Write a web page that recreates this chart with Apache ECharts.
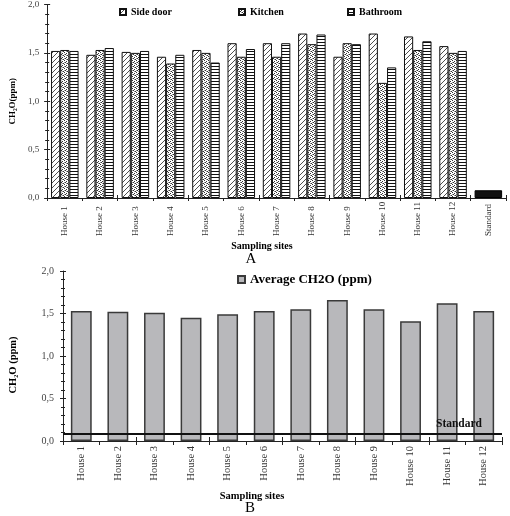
<!DOCTYPE html>
<html><head><meta charset="utf-8">
<script src="https://cdn.jsdelivr.net/npm/echarts@6/dist/echarts.min.js"></script>
<style>html,body{margin:0;padding:0;background:#fff}#c{width:510px;height:516px}</style>
</head><body><div id="c"></div>
<script>
// ---- data ----
const categoriesA = ['House 1','House 2','House 3','House 4','House 5','House 6','House 7','House 8','House 9','House 10','House 11','House 12','Standard'];
const sideDoor = [1.52,1.48,1.51,1.46,1.53,1.60,1.60,1.70,1.46,1.70,1.67,1.57,null];
const kitchen  = [1.53,1.53,1.50,1.39,1.50,1.46,1.46,1.59,1.60,1.19,1.53,1.50,null];
const bathroom = [1.52,1.55,1.52,1.48,1.40,1.54,1.60,1.69,1.59,1.35,1.62,1.52,null];
const standardA = [null,null,null,null,null,null,null,null,null,null,null,null,0.08];
const categoriesB = ['House 1','House 2','House 3','House 4','House 5','House 6','House 7','House 8','House 9','House 10','House 11','House 12'];
const averageB = [1.53,1.52,1.51,1.45,1.49,1.53,1.55,1.66,1.55,1.41,1.62,1.53];
const standardLine = 0.09;
const yMin = 0, yMax = 2, yStep = 0.5;
const seriesNamesA = ['Side door','Kitchen','Bathroom'];
const seriesNameB = 'Average CH2O (ppm)';

// ---- patterns ----
function pattern(kind){
  const c = document.createElement('canvas');
  const ctx = c.getContext('2d');
  if(kind==='diag'){
    c.width=5;c.height=5;
    ctx.fillStyle='#fff';ctx.fillRect(0,0,5,5);
    ctx.strokeStyle='#222';ctx.lineWidth=0.8;
    ctx.beginPath();
    ctx.moveTo(-1,6);ctx.lineTo(6,-1);
    ctx.moveTo(-1,1);ctx.lineTo(1,-1);
    ctx.moveTo(4,6);ctx.lineTo(6,4);
    ctx.stroke();
  } else if(kind==='dots'){
    c.width=4;c.height=4;
    ctx.fillStyle='#fff';ctx.fillRect(0,0,4,4);
    ctx.fillStyle='#333';
    ctx.fillRect(0,0,1,1);ctx.fillRect(2,1,1,1);ctx.fillRect(1,2,1,1);ctx.fillRect(3,3,1,1);
    ctx.fillStyle='#999';
    ctx.fillRect(2,3,1,1);ctx.fillRect(0,2,1,1);
  } else {
    c.width=3;c.height=3;
    ctx.fillStyle='#fff';ctx.fillRect(0,0,3,3);
    ctx.fillStyle='#111';ctx.fillRect(0,0,3,1);
  }
  return {image:c, repeat:'repeat'};
}
const patterns = [pattern('diag'), pattern('dots'), pattern('hline')];

const FF = 'Liberation Serif';
const fmt = v => v.toFixed(1).replace('.', ',');

function yAxes(grid, fontSize, margin, name, nameGap, nameSize, namePad){
  return [{
    gridIndex:grid, type:'value', min:yMin, max:yMax, interval:yStep,
    name:name, nameLocation:'middle', nameGap:nameGap, nameRotate:90,
    nameTextStyle:{fontFamily:FF, fontWeight:'bold', fontSize:nameSize, color:'#000', padding:namePad},
    axisLine:{show:true, lineStyle:{color:'#222', width:1}},
    axisTick:{show:true, length:3, lineStyle:{color:'#222'}},
    minorTick:{show:true, splitNumber:5, length:2, lineStyle:{color:'#222'}},
    splitLine:{show:false},
    axisLabel:{fontFamily:FF, fontSize:fontSize, color:'#444', margin:margin, formatter:fmt}
  },{
    gridIndex:grid, type:'value', position:'left', min:yMin, max:yMax, interval:yStep,
    axisLine:{show:false}, axisLabel:{show:false}, splitLine:{show:false},
    axisTick:{show:true, inside:true, length:3, lineStyle:{color:'#222'}},
    minorTick:{show:true, splitNumber:5, length:2, lineStyle:{color:'#222'}}
  }];
}

const ya = yAxes(0, 9, 8, 'CH₂O(ppm)', 30, 9, [0,0,0,0]);
const yb = yAxes(1, 10, 9, 'CH₂O (ppm)', 44, 10.5, [0,18,0,0]);

const option = {
  animation:false,
  backgroundColor:'#fff',
  grid:[
    {left:40, right:4, top:4, bottom:318},
    {left:57, right:8, top:271, bottom:75}
  ],
  legend:[
    {data:[seriesNamesA[0]], left:119, top:7, padding:0, itemWidth:6, itemHeight:6, icon:'rect', selectedMode:false,
     textStyle:{fontFamily:FF, fontWeight:'bold', fontSize:10, color:'#000'}},
    {data:[seriesNamesA[1]], left:238, top:7, padding:0, itemWidth:6, itemHeight:6, icon:'rect', selectedMode:false,
     textStyle:{fontFamily:FF, fontWeight:'bold', fontSize:10, color:'#000'}},
    {data:[seriesNamesA[2]], left:347, top:7, padding:0, itemWidth:6, itemHeight:6, icon:'rect', selectedMode:false,
     textStyle:{fontFamily:FF, fontWeight:'bold', fontSize:10, color:'#000'}},
    {data:[seriesNameB], left:237, top:273, padding:0, itemWidth:7, itemHeight:7, icon:'rect', selectedMode:false,
     textStyle:{fontFamily:FF, fontWeight:'bold', fontSize:13, color:'#000'}}
  ],
  xAxis:[
    {gridIndex:0, type:'category', data:categoriesA, position:'bottom',
     axisLine:{lineStyle:{color:'#222', width:1}},
     axisTick:{show:true, length:3, lineStyle:{color:'#222'}},
     axisLabel:{interval:0, rotate:90, align:'left', margin:38, fontFamily:FF, fontSize:9, color:'#333'}},
    {gridIndex:0, type:'category', data:categoriesA, position:'bottom',
     axisLine:{show:false}, axisLabel:{show:false},
     axisTick:{show:true, inside:true, length:3, lineStyle:{color:'#222'}}},
    {gridIndex:1, type:'category', data:categoriesB, position:'bottom',
     axisLine:{lineStyle:{color:'#222', width:1}},
     axisTick:{show:true, length:4, lineStyle:{color:'#222'}},
     axisLabel:{interval:0, rotate:90, margin:5, fontFamily:FF, fontSize:10.5, color:'#333'}},
    {gridIndex:1, type:'category', data:categoriesB, position:'bottom',
     axisLine:{show:false}, axisLabel:{show:false},
     axisTick:{show:true, inside:true, length:4, lineStyle:{color:'#222'}}}
  ],
  yAxis:[ya[0], ya[1], yb[0], yb[1]],
  series:[
    {name:seriesNamesA[0], type:'bar', xAxisIndex:0, yAxisIndex:0, data:sideDoor, barGap:'0%', barCategoryGap:'22%',
     itemStyle:{color:patterns[0], borderColor:'#111', borderWidth:1}},
    {name:seriesNamesA[1], type:'bar', xAxisIndex:0, yAxisIndex:0, data:kitchen, barGap:'0%', barCategoryGap:'22%',
     itemStyle:{color:patterns[1], borderColor:'#111', borderWidth:1}},
    {name:seriesNamesA[2], type:'bar', xAxisIndex:0, yAxisIndex:0, data:bathroom, barGap:'0%', barCategoryGap:'22%',
     itemStyle:{color:patterns[2], borderColor:'#111', borderWidth:1}},
    {name:'Standard', type:'bar', xAxisIndex:1, yAxisIndex:0, data:standardA, barCategoryGap:'22%',
     itemStyle:{color:'#111', borderColor:'#000', borderWidth:1}},
    {name:seriesNameB, type:'bar', xAxisIndex:2, yAxisIndex:2, data:averageB, barCategoryGap:'43%',
     itemStyle:{color:'#b8b8bb', borderColor:'#3a3a3a', borderWidth:1.5},
     markLine:{silent:true, symbol:'none', data:[{yAxis:standardLine}],
       lineStyle:{color:'#111', width:2, type:'solid'},
       label:{show:true, formatter:'Standard', position:'insideEndTop', distance:[20,3],
              fontFamily:FF, fontWeight:'bold', fontSize:11.5, color:'#111'}}}
  ],
  graphic:[
    {type:'text', x:262, y:246, style:{text:'Sampling sites', font:'bold 10px "Liberation Serif"', fill:'#000', align:'center', verticalAlign:'middle', textAlign:'center', textVerticalAlign:'middle'}},
    {type:'text', x:251, y:259, style:{text:'A', font:'15px "Liberation Serif"', fill:'#000', align:'center', verticalAlign:'middle', textAlign:'center', textVerticalAlign:'middle'}},
    {type:'text', x:252, y:496, style:{text:'Sampling sites', font:'bold 10.5px "Liberation Serif"', fill:'#000', align:'center', verticalAlign:'middle', textAlign:'center', textVerticalAlign:'middle'}},
    {type:'text', x:250, y:508, style:{text:'B', font:'15px "Liberation Serif"', fill:'#000', align:'center', verticalAlign:'middle', textAlign:'center', textVerticalAlign:'middle'}}
  ]
};
const chart = echarts.init(document.getElementById('c'), null, {renderer:'canvas'});
chart.setOption(option);
</script>
</body></html>
